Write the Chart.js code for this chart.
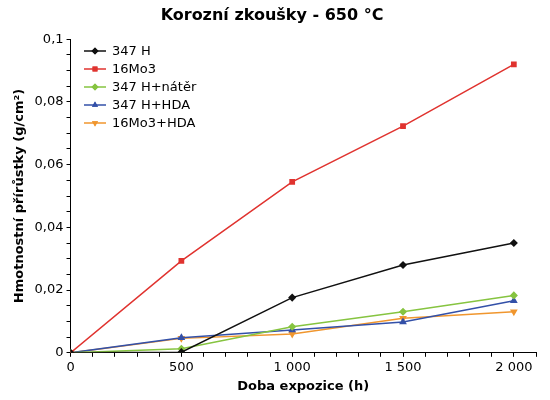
<!DOCTYPE html>
<html><head><meta charset="utf-8">
<script src="https://cdn.jsdelivr.net/npm/chart.js@4"></script>
<style>body{margin:0;background:#fff}#w{width:550px;height:400px;position:relative}
#lg{position:absolute;left:84px;top:42px;font:13px "DejaVu Sans";color:#000;line-height:18px}
#lg div{display:flex;align-items:center}
#lg canvas{margin-right:6px}</style>
</head><body><div id="w"><canvas id="c"></canvas><div id="lg"></div></div>
<script>
const xs = [0, 500, 1000, 1500, 2000];
const s347H = [0, 0.0002, 0.0176, 0.028, 0.035];
const s16Mo3 = [0, 0.0293, 0.0545, 0.0723, 0.092];
const s347Hnater = [0, 0.0013, 0.0083, 0.0131, 0.0183];
const s347HHDA = [0, 0.0048, 0.0073, 0.0098, 0.0166];
const s16Mo3HDA = [0, 0.0046, 0.006, 0.011, 0.0131];

const pts = (arr) => arr.map((y, i) => ({ x: xs[i], y }));
const ds = (label, data, color, style, rot = 0) => ({
  label, data: pts(data), borderColor: color, backgroundColor: color,
  borderWidth: 1.5, pointStyle: style, pointRotation: rot, pointRadius: 3, tension: 0
});
const datasets = [
  ds("347 H", s347H, "#111", "rectRot"),
  ds("16Mo3", s16Mo3, "#e0332f", "rect"),
  ds("347 H+nátěr", s347Hnater, "#86c440", "rectRot"),
  ds("347 H+HDA", s347HHDA, "#3350a8", "triangle"),
  ds("16Mo3+HDA", s16Mo3HDA, "#f0962e", "triangle", 180)
];

// simple html legend: line + marker
datasets.forEach((d) => {
  const row = document.createElement("div");
  const cv = document.createElement("canvas");
  cv.width = 22; cv.height = 12;
  const g = cv.getContext("2d");
  g.strokeStyle = d.borderColor; g.lineWidth = 1.5;
  g.beginPath(); g.moveTo(0, 6); g.lineTo(22, 6); g.stroke();
  g.fillStyle = d.backgroundColor;
  Chart.helpers.drawPoint(g, { pointStyle: d.pointStyle, rotation: d.pointRotation, radius: 3.5, borderWidth: 0 }, 11, 6);
  g.fill();
  row.appendChild(cv);
  row.appendChild(document.createTextNode(d.label));
  document.getElementById("lg").appendChild(row);
});

new Chart(document.getElementById("c"), {
  type: "line",
  data: { datasets },
  options: {
    animation: false, responsive: true, maintainAspectRatio: false,
    layout: { padding: { right: 14, left: 8, bottom: 6 } },
    plugins: {
      title: { display: true, text: "Korozní zkoušky - 650 °C", color: "#000",
        font: { family: "DejaVu Sans", size: 16, weight: "bold" }, padding: { top: 6, bottom: 14 } },
      legend: { display: false }
    },
    scales: {
      x: { type: "linear", min: 0, max: 2100,
        title: { display: true, text: "Doba expozice (h)", color: "#000",
          font: { family: "DejaVu Sans", size: 13, weight: "bold" }, padding: 0 },
        grid: { drawOnChartArea: false, color: "#000", tickLength: 4 },
        border: { color: "#000" },
        ticks: { stepSize: 100, autoSkip: false, maxRotation: 0, color: "#000",
          font: { family: "DejaVu Sans", size: 13 },
          callback: (v) => v % 500 === 0 ? String(v).replace(/\B(?=(\d{3})+$)/, " ") : "" } },
      y: { min: 0, max: 0.1,
        title: { display: true, text: "Hmotnostní přírůstky (g/cm²)", color: "#000",
          font: { family: "DejaVu Sans", size: 13, weight: "bold" } },
        grid: { drawOnChartArea: false, color: "#000", tickLength: 4 },
        border: { color: "#000" },
        ticks: { stepSize: 0.005, autoSkip: false, color: "#000",
          font: { family: "DejaVu Sans", size: 13 },
          callback: (v) => {
            const r = Math.round(v * 1000);
            if (r % 20 !== 0) return "";
            return r === 0 ? "0" : String(+(v).toFixed(3)).replace(".", ",");
          } } }
    }
  }
});
</script></body></html>
